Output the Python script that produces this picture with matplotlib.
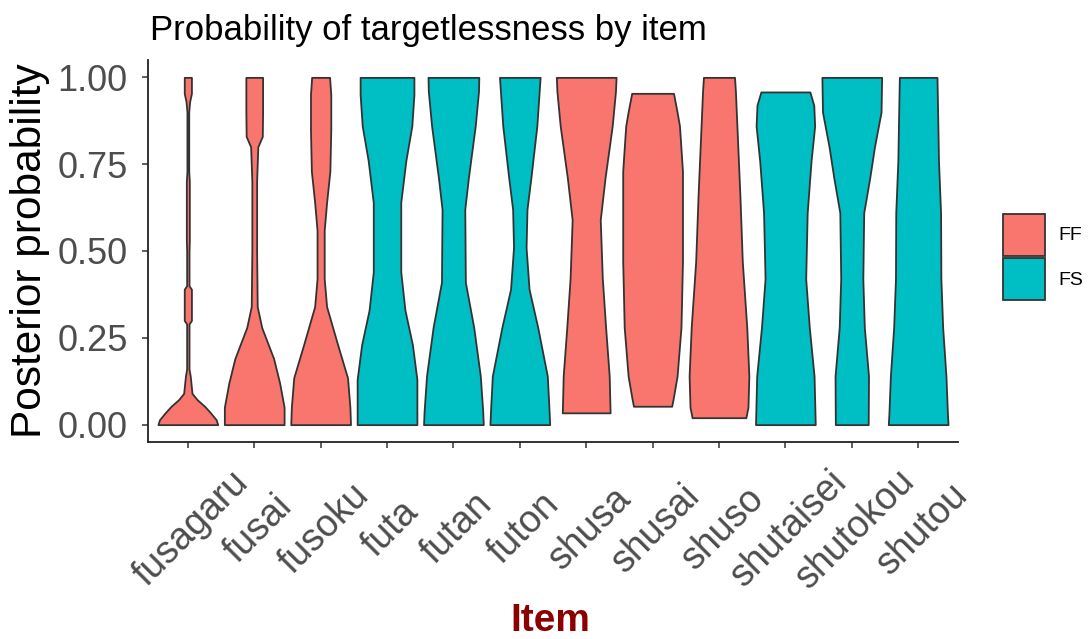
import numpy as np
import matplotlib
matplotlib.use("Agg")
import matplotlib.pyplot as plt
import matplotlib.transforms as mtransforms
from matplotlib.patches import Patch

plt.rcParams['font.family'] = ['Liberation Sans', 'DejaVu Sans']

items = ["fusagaru", "fusai", "fusoku", "futa", "futan", "futon",
         "shusa", "shusai", "shuso", "shutaisei", "shutokou", "shutou"]
groups = ["FF", "FF", "FF", "FS", "FS", "FS",
          "FF", "FF", "FF", "FS", "FS", "FS"]

# violin outlines: posterior probability levels and relative half-widths (1 = widest)
prof_y = {
    "fusagaru": [0.0, 0.014, 0.034, 0.053, 0.072, 0.09, 0.14, 0.16, 0.29, 0.30, 0.39, 0.40,
                 0.50, 0.53, 0.70, 0.73, 0.90, 0.93, 0.954, 1.0],
    "fusai":    [0.0, 0.05, 0.12, 0.19, 0.28, 0.34, 0.50, 0.70, 0.80, 0.83, 0.90, 1.0],
    "fusoku":   [0.0, 0.05, 0.135, 0.23, 0.34, 0.42, 0.56, 0.64, 0.73, 0.85, 0.95, 1.0],
    "futa":     [0.0, 0.13, 0.23, 0.33, 0.44, 0.64, 0.76, 0.86, 0.95, 1.0],
    "futan":    [0.0, 0.04, 0.14, 0.28, 0.41, 0.62, 0.71, 0.86, 0.96, 1.0],
    "futon":    [0.0, 0.04, 0.14, 0.28, 0.39, 0.51, 0.62, 0.71, 0.86, 1.0],
    "shusa":    [0.034, 0.14, 0.28, 0.42, 0.59, 0.71, 0.86, 0.96, 1.0],
    "shusai":   [0.053, 0.08, 0.14, 0.28, 0.47, 0.73, 0.86, 0.90, 0.954],
    "shuso":    [0.02, 0.05, 0.14, 0.28, 0.47, 0.66, 0.86, 0.96, 1.0],
    "shutaisei": [0.0, 0.14, 0.28, 0.42, 0.61, 0.76, 0.86, 0.92, 0.958],
    "shutokou": [0.0, 0.14, 0.28, 0.42, 0.61, 0.71, 0.80, 0.90, 1.0],
    "shutou":   [0.0, 0.03, 0.14, 0.28, 0.42, 0.61, 0.76, 0.86, 1.0],
}
prof_w = {
    "fusagaru": [1.0, 0.95, 0.76, 0.56, 0.31, 0.14, 0.08, 0.04, 0.04, 0.12, 0.12, 0.04,
                 0.04, 0.05, 0.05, 0.03, 0.03, 0.06, 0.12, 0.12],
    "fusai":    [1.0, 1.0, 0.85, 0.65, 0.25, 0.10, 0.08, 0.08, 0.12, 0.27, 0.28, 0.28],
    "fusoku":   [1.0, 0.98, 0.90, 0.57, 0.20, 0.12, 0.12, 0.20, 0.31, 0.34, 0.34, 0.30],
    "futa":     [1.0, 1.0, 0.85, 0.60, 0.46, 0.46, 0.63, 0.83, 0.90, 0.90],
    "futan":    [1.0, 0.98, 0.90, 0.68, 0.40, 0.38, 0.50, 0.73, 0.84, 0.85],
    "futon":    [1.0, 0.98, 0.92, 0.60, 0.31, 0.21, 0.24, 0.37, 0.57, 0.68],
    "shusa":    [0.80, 0.77, 0.65, 0.54, 0.47, 0.63, 0.87, 0.98, 1.0],
    "shusai":   [0.64, 0.70, 0.82, 0.95, 1.0, 1.0, 0.90, 0.82, 0.70],
    "shuso":    [0.90, 0.97, 1.0, 0.93, 0.78, 0.70, 0.60, 0.55, 0.52],
    "shutaisei": [1.0, 0.96, 0.80, 0.68, 0.73, 0.86, 0.98, 0.95, 0.82],
    "shutokou": [0.55, 0.56, 0.42, 0.37, 0.40, 0.60, 0.76, 0.98, 1.0],
    "shutou":   [1.0, 0.98, 0.93, 0.82, 0.76, 0.75, 0.68, 0.66, 0.63],
}

colors = {"FF": "#F8766D", "FS": "#00BFC4"}
edge = "#333333"
tick_grey = "#4D4D4D"

fig = plt.figure(figsize=(10.92, 6.39), dpi=100)
ax = fig.add_axes([148 / 1092, 1 - 442 / 639, 810 / 1092, 382 / 639])

half = 0.45
for i, name in enumerate(items):
    pos = i + 1
    y = np.array(prof_y[name])
    w = np.array(prof_w[name]) * half
    ax.fill_betweenx(y, pos - w, pos + w, facecolor=colors[groups[i]],
                     edgecolor=edge, linewidth=1.3)

ax.set_xlim(0.4, len(items) + 0.6)
ax.set_ylim(-0.05, 1.05)
ax.set_yticks([0, 0.25, 0.5, 0.75, 1.0])
ax.set_yticklabels(["0.00", "0.25", "0.50", "0.75", "1.00"])
ax.set_xticks(range(1, len(items) + 1))
ax.set_xticklabels(items, rotation=45, ha="center", va="center")

for s in ["top", "right"]:
    ax.spines[s].set_visible(False)
for s in ["left", "bottom"]:
    ax.spines[s].set_linewidth(1.3)
    ax.spines[s].set_color("#222222")

ax.tick_params(axis="y", length=4.5, width=1.1, color="#333333", pad=10,
               labelsize=26, labelcolor=tick_grey)
ax.tick_params(axis="x", length=4.5, width=1.1, color="#333333", pad=58,
               labelsize=27, labelcolor=tick_grey)
shift = mtransforms.ScaledTranslation(4 / 100, 0, fig.dpi_scale_trans)
for lab in ax.get_xticklabels():
    lab.set_transform(lab.get_transform() + shift)

fig.text(150 / 1092, 1 - 40 / 639, "Probability of targetlessness by item",
         fontsize=25, ha="left", va="baseline", color="black")
fig.text(30 / 1092, 1 - 251 / 639, "Posterior probability", fontsize=30.5,
         rotation=90, ha="center", va="center", color="black")
fig.text(550 / 1092, 1 - 621 / 639, "Item", fontsize=28, fontweight="bold",
         ha="center", va="center", color="#8B0000")

# legend keys about 42 px square
handles = [Patch(facecolor=colors[g], edgecolor=edge, linewidth=1.3) for g in ["FF", "FS"]]
fig.legend(handles, ["FF", "FS"], loc="center left",
           bbox_to_anchor=(999 / 1092, 1 - 257 / 639), frameon=False,
           fontsize=14, handlelength=2.16, handleheight=2.94, labelspacing=0.15,
           handletextpad=0.7, borderpad=0.2, borderaxespad=0)

fig.savefig("out.png", dpi=100)
